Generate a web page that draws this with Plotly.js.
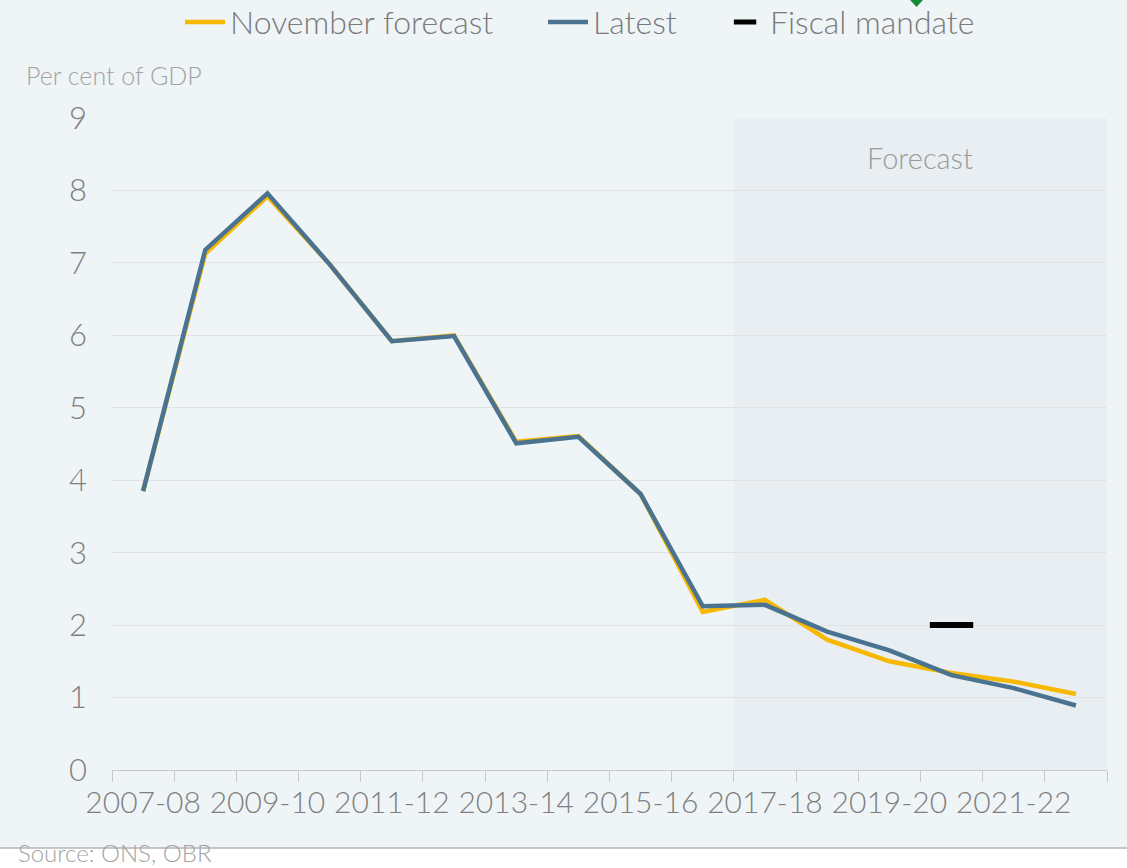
<!DOCTYPE html>
<html>
<head>
<meta charset="utf-8">
<script src="https://cdn.plot.ly/plotly-3.0.1.min.js"></script>
<style>html,body{margin:0;padding:0;background:#fff;}#chart{width:1127px;height:868px;}</style>
</head>
<body>
<div id="chart"></div>
<script>
const years = ["2007-08","2008-09","2009-10","2010-11","2011-12","2012-13","2013-14","2014-15","2015-16","2016-17","2017-18","2018-19","2019-20","2020-21","2021-22","2022-23"];
const novemberForecast = [3.85, 7.13, 7.92, 6.98, 5.92, 6.00, 4.53, 4.61, 3.81, 2.18, 2.35, 1.80, 1.50, 1.34, 1.22, 1.05];
const latest = [3.85, 7.18, 7.96, 6.98, 5.92, 5.99, 4.51, 4.60, 3.81, 2.26, 2.28, 1.91, 1.65, 1.31, 1.13, 0.89];
const mandateYear = ["2020-21"];
const mandateValue = [2.0];
const tickLabels = ["2007-08","","2009-10","","2011-12","","2013-14","","2015-16","","2017-18","","2019-20","","2021-22",""];
const forecastStart = "2017-18";
const forecastEnd = "2022-23";

const FONT = "Lato, 'Open Sans', sans-serif";
const xIndex = v => years.indexOf(v);

const traces = [
  {x: years, y: novemberForecast, name: "November forecast", type: "scatter", mode: "lines",
   legend: "legend", line: {color: "#f7b800", width: 4.5}},
  {x: years, y: latest, name: "Latest", type: "scatter", mode: "lines",
   legend: "legend2", line: {color: "#4a7391", width: 4.5}},
  {x: mandateYear, y: mandateValue, name: "Fiscal mandate", type: "scatter", mode: "markers",
   legend: "legend3", marker: {symbol: "line-ew", size: 31, color: "#000", line: {color: "#000", width: 6}}}
];

const legFont = {size: 32, color: "#7a7a7a", family: FONT, weight: 300};
const legBase = {orientation: "h", xanchor: "left", y: 1.147, yanchor: "middle", font: legFont,
  bgcolor: "rgba(0,0,0,0)", itemwidth: 40};

const layout = {
  width: 1127, height: 868,
  paper_bgcolor: "#eff4f7", plot_bgcolor: "#eff4f7",
  margin: {l: 112, r: 20, t: 118, b: 98, autoexpand: false},
  font: {family: FONT, color: "#808080", weight: 300},
  showlegend: true,
  legend: Object.assign({}, legBase, {x: 0.0684}),
  legend2: Object.assign({}, legBase, {x: 0.4332}),
  legend3: Object.assign({}, legBase, {x: 0.6111}),
  xaxis: {type: "category", range: [-0.5, years.length - 0.5], tickmode: "array",
    tickvals: years, ticktext: tickLabels, tickson: "boundaries", ticks: "outside", ticklen: 11,
    tickcolor: "#c8c8c8", tickwidth: 1, showline: true, linecolor: "#c8c8c8", linewidth: 1,
    showgrid: false, zeroline: false, ticklabelstandoff: 6, tickangle: 0,
    tickfont: {size: 30, color: "#7f7f7f", family: FONT, weight: 300}, fixedrange: true},
  yaxis: {range: [0, 9], dtick: 1, tick0: 0, showgrid: true, gridcolor: "#dfe3e6", gridwidth: 1,
    zeroline: false, showline: false, ticks: "", ticklabelstandoff: 24,
    tickfont: {size: 31, color: "#7f7f7f", family: FONT, weight: 300}, fixedrange: true},
  shapes: [
    {type: "rect", xref: "x", yref: "paper", x0: xIndex(forecastStart) - 0.5, x1: xIndex(forecastEnd) + 0.5,
     y0: 0, y1: 1, fillcolor: "#e8eef1", line: {width: 0}, layer: "below"},
    {type: "rect", xref: "paper", yref: "paper", x0: -0.2, x1: 1.1, y0: -0.1196, y1: -0.2,
     fillcolor: "#ffffff", line: {width: 0}, layer: "below"},
    {type: "line", xref: "paper", yref: "paper", x0: -0.2, x1: 1.1, y0: -0.1196, y1: -0.1196,
     line: {color: "#b5b5b5", width: 1.5}, layer: "below"},
    {type: "path", xref: "paper", yref: "paper",
     path: "M 0.8015 1.182 L 0.8156 1.182 L 0.8086 1.1703 Z", fillcolor: "#138a36", line: {width: 0}}
  ],
  annotations: [
    {text: "Per cent of GDP", xref: "paper", yref: "paper", x: -0.0884, y: 1.066, xanchor: "left", yanchor: "middle",
     showarrow: false, font: {size: 25, color: "#a3a3a3", family: FONT, weight: 300}},
    {text: "Forecast", xref: "paper", yref: "paper", x: 0.812, y: 0.940, xanchor: "center", yanchor: "middle",
     showarrow: false, font: {size: 29, color: "#9a9a9a", family: FONT, weight: 300}},
    {text: "Source: ONS, OBR", xref: "paper", yref: "paper", x: -0.0965, y: -0.1270, xanchor: "left", yanchor: "middle",
     showarrow: false, font: {size: 24, color: "#a3a3a3", family: FONT, weight: 300}}
  ]
};

Plotly.newPlot("chart", traces, layout, {displayModeBar: false, staticPlot: true});
</script>
</body>
</html>
